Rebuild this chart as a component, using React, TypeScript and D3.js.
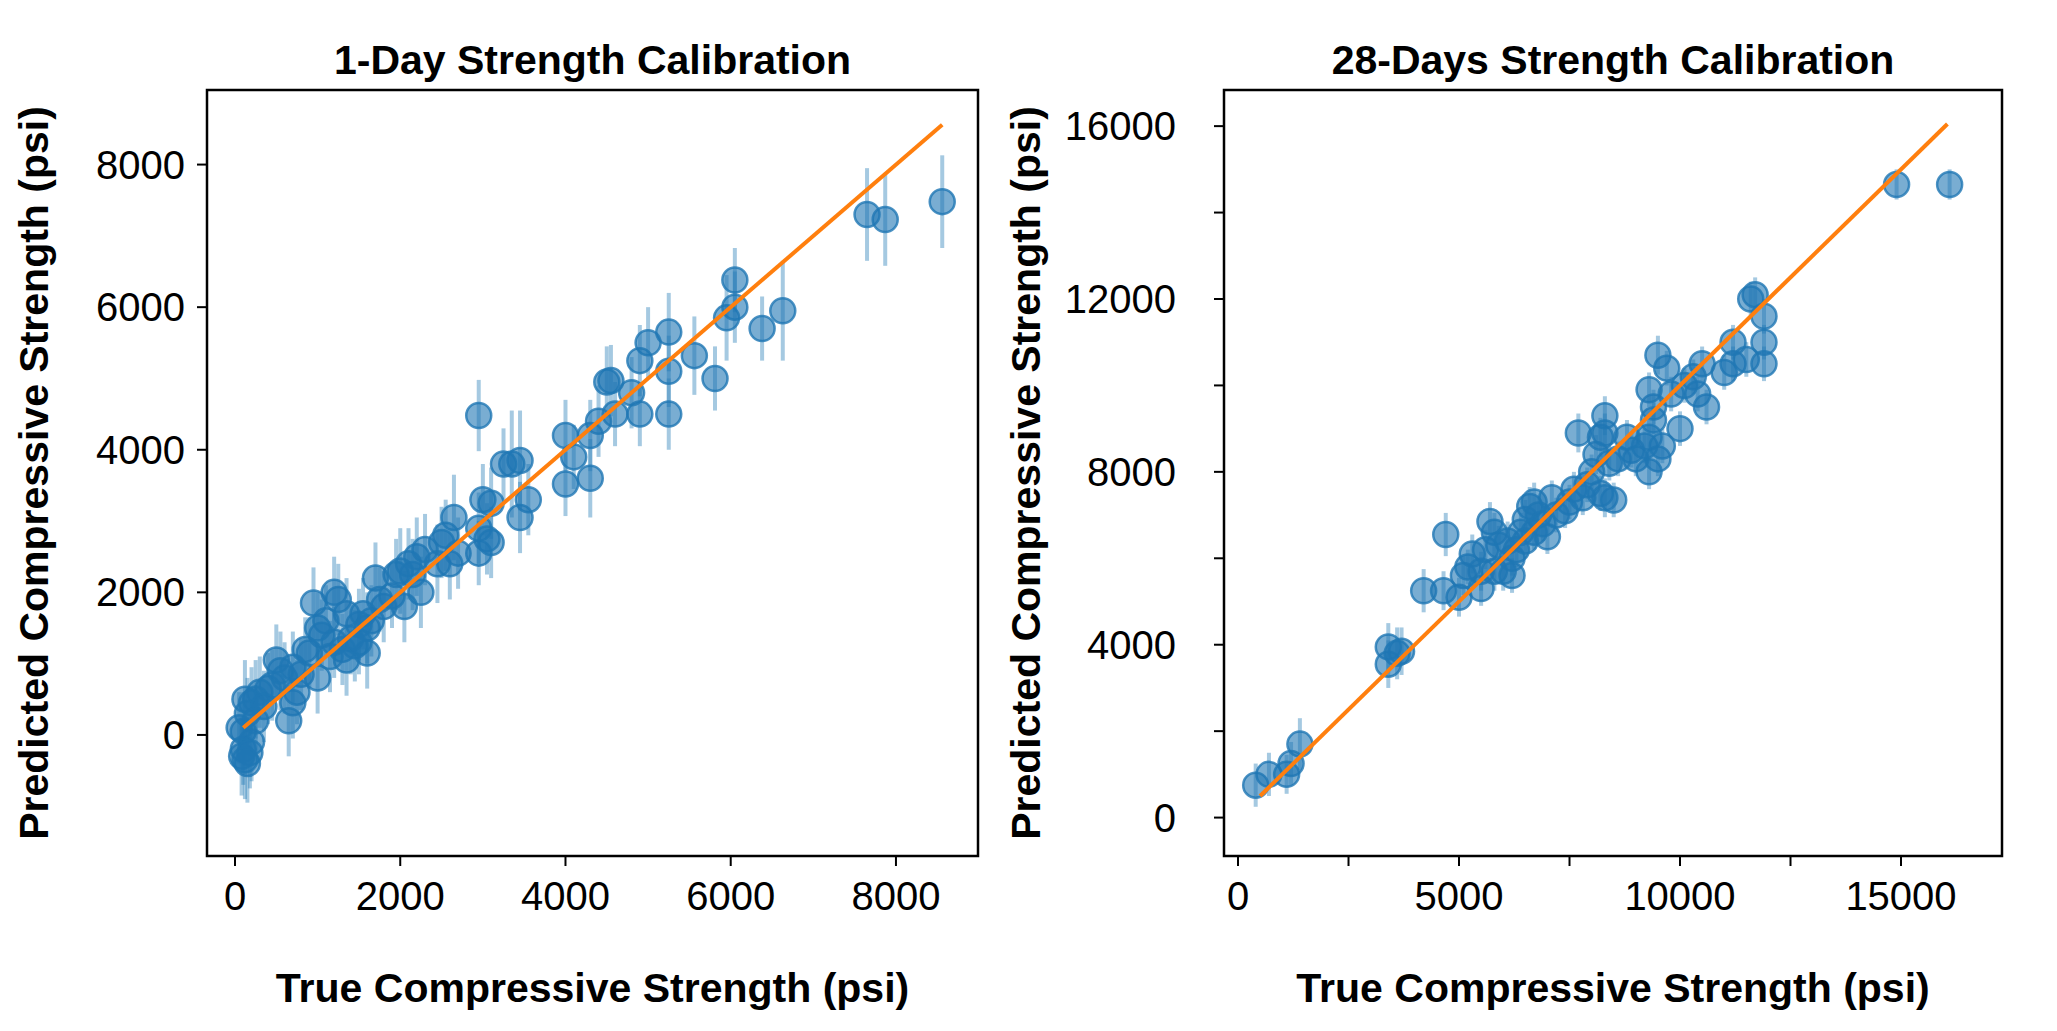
import React from "react";
import * as d3 from "d3";

type P = [number, number, number];
const day1: P[] = [
[2950,4480,500],[7650,7300,650],[7870,7230,650],[8560,7480,650],[6630,5950,700],[6380,5700,450],[5810,5000,450],[5560,5320,550],[5250,4500,500],[5250,5650,550],[5250,5100,500],[5000,5500,500],[4900,5250,500],[4900,4500,450],[5950,5850,600],[6050,6380,450],[6050,6000,500],[4550,4970,500],[4500,4950,500],[4800,4800,500],[4600,4500,450],[4400,4400,500],[4300,4200,500],[4300,3600,550],[4100,3900,450],[4000,4200,500],[4000,3520,450],[3550,3300,500],[3450,3050,500],[3450,3850,700],[3350,3800,750],[3250,3800,500],[3100,3250,500],[3000,3300,500],[3050,2750,500],[2950,2550,450],[2950,2900,500],[3100,2700,500],[2650,3050,600],[2550,2800,500],[2500,2700,500],[2600,2400,500],[2450,2400,550],[2250,2000,500],[2150,2250,500],[2050,1800,500],[2000,2300,600],[2200,2500,550],[2100,2400,500],[1950,2250,500],[1800,1800,500],[1700,2200,500],[1600,1500,500],[1600,1150,500],[1500,1550,500],[1400,1350,500],[1350,1700,500],[1300,1200,500],[1200,1300,500],[1200,2000,500],[1250,1900,500],[1100,1600,500],[1050,1400,500],[1000,1500,500],[950,1850,500],[900,1150,500],[850,1200,450],[800,850,500],[750,600,450],[700,450,500],[650,200,500],[600,800,500],[500,1050,500],[450,700,500],[400,650,500],[300,600,500],[250,500,550],[200,450,500],[150,300,500],[120,500,550],[100,50,550],[80,-300,550],[100,-200,500],[150,-400,550],[200,-100,550],[50,100,500],[350,400,500],[550,900,550],[1450,1250,500],[1550,1700,500],[1650,1600,500],[1150,1100,500],[1750,1900,450],[1900,1950,450],[2300,2600,500],[2700,2550,500],[1350,1050,500],[1000,800,500],[700,950,500],[250,200,500],[180,-250,500],[120,-350,550],[1500,1300,450]];
const day28: P[] = [
[400,750,500],[700,1000,500],[1100,1000,450],[1200,1250,500],[1400,1700,600],[3400,3950,550],[3400,3550,550],[3700,3850,550],[3600,3800,600],[4200,5250,500],[4700,6550,500],[4650,5250,450],[5000,5100,450],[5100,5600,450],[5300,6100,450],[5500,5700,450],[5600,6200,450],[5700,6850,450],[5800,6600,450],[5900,6300,450],[5800,5700,450],[6000,5700,450],[6200,6000,400],[6100,6400,450],[6300,6200,400],[6400,6600,450],[6500,6900,450],[6600,7200,450],[6700,7300,450],[6800,7000,450],[6700,6600,400],[6900,6800,400],[7000,6500,400],[7200,7000,400],[7400,7100,400],[7500,7300,400],[7600,7600,400],[7800,7400,400],[7900,7700,400],[8000,8000,400],[7700,8900,450],[8100,8400,450],[8200,8800,450],[8300,9300,450],[8300,8900,450],[8400,8200,400],[8200,7500,400],[8500,7350,400],[8300,7400,450],[8600,8300,400],[8900,8500,400],[9000,8300,400],[9200,8600,400],[9300,8800,400],[9400,9200,400],[9500,8300,400],[9300,8000,400],[9600,8600,400],[9400,9500,400],[9300,9900,400],[9500,10700,450],[9700,10400,400],[10000,9000,400],[10100,10000,400],[10300,10200,400],[10500,10500,400],[10600,9500,400],[10400,9800,400],[11000,10300,400],[11200,10500,400],[11200,11000,400],[11500,10600,400],[11600,12000,400],[11700,12100,400],[11900,11600,400],[11900,11000,400],[11900,10500,400],[14900,14650,350],[16100,14650,350],[6200,5600,400],[5500,5300,400],[7100,7400,400],[8800,8800,400],[9800,9800,400],[6500,6400,400],[5200,5800,400]];

const panels = [
  { title: "1-Day Strength Calibration", data: day1, x0: 207, x1: 978, xd: [-339, 8993], yd: [-1698, 9046],
    xt: [0, 2000, 4000, 6000, 8000], xlab: [0, 2000, 4000, 6000, 8000], yt: [0, 2000, 4000, 6000, 8000], ylab: [0, 2000, 4000, 6000, 8000], line: [100, 8560], ylx: 48, tpad: 22 },
  { title: "28-Days Strength Calibration", data: day28, x0: 1224, x1: 2002, xd: [-317, 17285], yd: [-889, 16836],
    xt: [0, 2500, 5000, 7500, 10000, 12500, 15000], xlab: [0, 5000, 10000, 15000], yt: [0, 2000, 4000, 6000, 8000, 10000, 12000, 14000, 16000], ylab: [0, 4000, 8000, 12000, 16000], line: [500, 16050], ylx: 1040, tpad: 48 },
];
const top = 90, bottom = 856;
const font = "'Liberation Sans', Arial, sans-serif";
const fs = 40, lfs = 41;

export default function App() {
  return (
    <svg width={2057} height={1031} style={{ position: "absolute", left: 0, top: 0, background: "#fff" }} fontFamily={font}>
      {panels.map((p, i) => {
        const x = d3.scaleLinear().domain(p.xd).range([p.x0, p.x1]);
        const y = d3.scaleLinear().domain(p.yd).range([bottom, top]);
        const cx = (p.x0 + p.x1) / 2;
        return (
          <g key={i}>
            <defs><clipPath id={"c" + i}><rect x={p.x0} y={top} width={p.x1 - p.x0} height={bottom - top} /></clipPath></defs>
            <g clipPath={`url(#c${i})`}>
              {p.data.map((d, j) => (
                <line key={"e" + j} x1={x(d[0])} x2={x(d[0])} y1={y(d[1] - d[2])} y2={y(d[1] + d[2])} stroke="#1f77b4" strokeOpacity={0.4} strokeWidth={4} />
              ))}
              {p.data.map((d, j) => (
                <circle key={"p" + j} cx={x(d[0])} cy={y(d[1])} r={12.5} fill="#1f77b4" fillOpacity={0.6} stroke="#1f77b4" strokeOpacity={0.8} strokeWidth={2.5} />
              ))}
              <line x1={x(p.line[0])} y1={y(p.line[0])} x2={x(p.line[1])} y2={y(p.line[1])} stroke="#ff7f0e" strokeWidth={4} />
            </g>
            <rect x={p.x0} y={top} width={p.x1 - p.x0} height={bottom - top} fill="none" stroke="#000" strokeWidth={2.5} />
            {p.xt.map((t) => (
              <line key={"xt" + t} x1={x(t)} x2={x(t)} y1={bottom} y2={bottom + 10} stroke="#000" strokeWidth={2} />
            ))}
            {p.xlab.map((t) => (
              <text key={"xl" + t} x={x(t)} y={bottom + 54} fontSize={fs} textAnchor="middle">{t}</text>
            ))}
            {p.yt.map((t) => (
              <line key={"yt" + t} x1={p.x0 - 10} x2={p.x0} y1={y(t)} y2={y(t)} stroke="#000" strokeWidth={2} />
            ))}
            {p.ylab.map((t) => (
              <text key={"yl" + t} x={p.x0 - p.tpad} y={y(t) + 14} fontSize={fs} textAnchor="end">{t}</text>
            ))}
            <text x={cx} y={74} fontSize={lfs} fontWeight="bold" textAnchor="middle">{p.title}</text>
            <text x={cx} y={1002} fontSize={lfs} fontWeight="bold" textAnchor="middle">True Compressive Strength (psi)</text>
            <text transform={`translate(${p.ylx},${(top + bottom) / 2}) rotate(-90)`} fontSize={lfs} fontWeight="bold" textAnchor="middle">Predicted Compressive Strength (psi)</text>
          </g>
        );
      })}
    </svg>
  );
}
